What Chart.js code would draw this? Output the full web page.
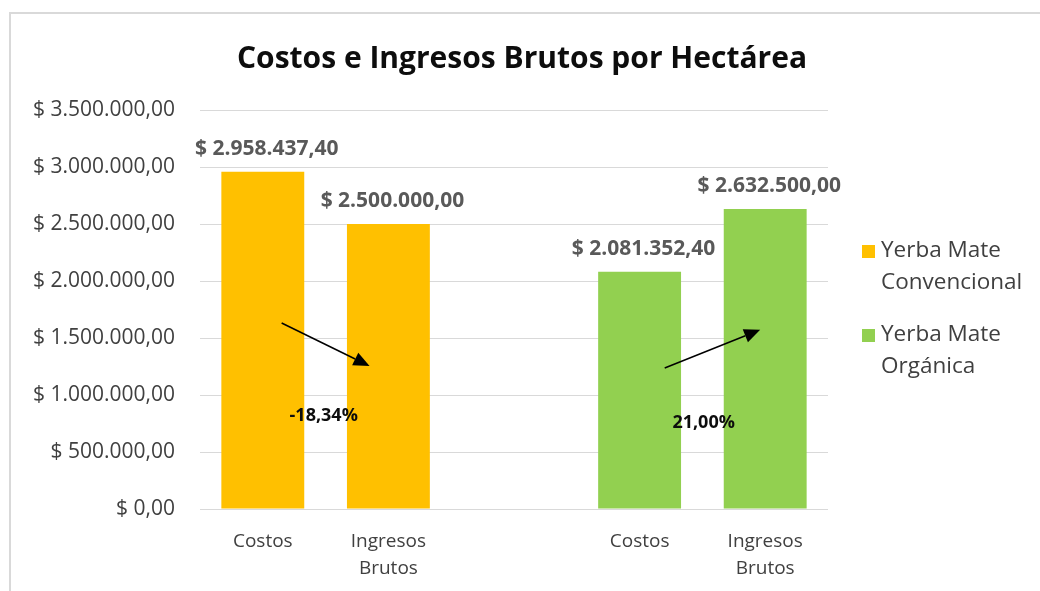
<!DOCTYPE html>
<html>
<head>
<meta charset="utf-8">
<script src="https://cdn.jsdelivr.net/npm/chart.js@4.4.1/dist/chart.umd.min.js"></script>
<style>
  html, body { margin: 0; padding: 0; background: #ffffff; }
  canvas { display: block; }
</style>
</head>
<body>
<canvas id="c" width="1040" height="591"></canvas>
<script>
// ---- data ----
const chartTitle = 'Costos e Ingresos Brutos por Hectárea';
const categories = ['Costos', ['Ingresos', 'Brutos'], '', 'Costos', ['Ingresos', 'Brutos']];
const seriesNames = ['Yerba Mate Convencional', 'Yerba Mate Orgánica'];
const convencional = [2958437.40, 2500000.00, null, null, null];
const organica = [null, null, null, 2081352.40, 2632500.00];
const seriesColors = ['#FFC000', '#92D050'];
const yTicksMin = 0, yTicksMax = 3500000, yTicksStep = 500000;
// change annotations (category index, value)
const changeArrowFrom = [[0.15, 1632000], [3.20, 1237000]];
const changeArrowTo = [[0.85, 1254000], [3.96, 1572000]];
const changeLabels = ['-18,34%', '21,00%'];
const changeLabelPos = [[0.485, 816000], [3.51, 754000]];

const FONT = '"Open Sans", Lato, sans-serif';

function fmtMoney(v) {
  const parts = Number(v).toFixed(2).split('.');
  return '$ ' + parts[0].replace(/\B(?=(\d{3})+(?!\d))/g, '.') + ',' + parts[1];
}

const decorPlugin = {
  id: 'decor',
  beforeDraw(chart) {
    const ctx = chart.ctx;
    ctx.save();
    ctx.fillStyle = '#ffffff';
    ctx.fillRect(0, 0, chart.width, chart.height);
    ctx.strokeStyle = '#D9D9D9';
    ctx.lineWidth = 2;
    ctx.strokeRect(10, 13, 1200, 800);
    // title
    ctx.fillStyle = '#0D0D0D';
    ctx.font = 'bold 30px ' + FONT;
    ctx.textAlign = 'center';
    ctx.textBaseline = 'middle';
    ctx.fillText(chartTitle, 522, 59);
    ctx.restore();
  },
  afterDatasetsDraw(chart) {
    const ctx = chart.ctx;
    const xs = chart.scales.x, ys = chart.scales.y;
    ctx.save();
    // value labels
    ctx.font = 'bold 21px ' + FONT;
    ctx.fillStyle = '#595959';
    ctx.textAlign = 'center';
    ctx.textBaseline = 'middle';
    chart.data.datasets.forEach((ds, di) => {
      const meta = chart.getDatasetMeta(di);
      meta.data.forEach((bar, i) => {
        const v = ds.data[i];
        if (v === null || v === undefined) return;
        ctx.fillText(fmtMoney(v), bar.x + 4, bar.y - 23);
      });
    });
    // arrows
    ctx.strokeStyle = '#000000';
    ctx.fillStyle = '#000000';
    ctx.lineWidth = 1.5;
    changeArrowFrom.forEach((f, k) => {
      const t = changeArrowTo[k];
      const x1 = xs.getPixelForValue(f[0]), y1 = ys.getPixelForValue(f[1]);
      const x2 = xs.getPixelForValue(t[0]), y2 = ys.getPixelForValue(t[1]);
      const ang = Math.atan2(y2 - y1, x2 - x1);
      const hl = 16, hw = 7;
      const bx = x2 - hl * Math.cos(ang), by = y2 - hl * Math.sin(ang);
      ctx.beginPath();
      ctx.moveTo(x1, y1);
      ctx.lineTo(bx, by);
      ctx.stroke();
      ctx.beginPath();
      ctx.moveTo(x2, y2);
      ctx.lineTo(bx + hw * Math.sin(ang), by - hw * Math.cos(ang));
      ctx.lineTo(bx - hw * Math.sin(ang), by + hw * Math.cos(ang));
      ctx.closePath();
      ctx.fill();
    });
    // change labels
    ctx.font = 'bold 18px ' + FONT;
    ctx.fillStyle = '#0D0D0D';
    changeLabels.forEach((txt, k) => {
      const p = changeLabelPos[k];
      ctx.fillText(txt, xs.getPixelForValue(p[0]), ys.getPixelForValue(p[1]));
    });
    ctx.restore();
  },
  afterDraw(chart) {
    // legend
    const ctx = chart.ctx;
    ctx.save();
    ctx.font = '22.5px ' + FONT;
    ctx.textAlign = 'left';
    ctx.textBaseline = 'middle';
    const x0 = 862, tx = 881, maxW = 150;
    let y = 251;
    seriesNames.forEach((name, i) => {
      const words = name.split(' ');
      const lines = [];
      let cur = '';
      words.forEach(w => {
        const test = cur ? cur + ' ' + w : w;
        if (ctx.measureText(test).width > maxW && cur) { lines.push(cur); cur = w; }
        else cur = test;
      });
      if (cur) lines.push(cur);
      ctx.fillStyle = seriesColors[i];
      ctx.fillRect(x0, y - 6, 13, 13);
      ctx.fillStyle = '#404040';
      lines.forEach((ln, j) => ctx.fillText(ln, tx, y + j * 32));
      y += 84;
    });
    ctx.restore();
  }
};

new Chart(document.getElementById('c'), {
  type: 'bar',
  data: {
    labels: categories,
    datasets: [
      { label: seriesNames[0], data: convencional, backgroundColor: seriesColors[0], grouped: false, categoryPercentage: 1, barPercentage: 0.66 },
      { label: seriesNames[1], data: organica, backgroundColor: seriesColors[1], grouped: false, categoryPercentage: 1, barPercentage: 0.66 }
    ]
  },
  options: {
    responsive: false,
    animation: false,
    layout: { padding: { top: 110, right: 212, left: 0, bottom: 0 } },
    plugins: { legend: { display: false }, title: { display: false }, tooltip: { enabled: false } },
    scales: {
      x: {
        grid: { display: false },
        border: { display: false },
        ticks: { color: '#404040', font: { family: FONT, size: 19, lineHeight: 1.42 }, padding: 11, maxRotation: 0, autoSkip: false },
        afterFit(s) { s.height = 82; }
      },
      y: {
        min: yTicksMin, max: yTicksMax,
        grid: { color: '#D9D9D9', drawTicks: false, lineWidth: 1 },
        border: { display: false },
        ticks: { stepSize: yTicksStep, color: '#404040', font: { family: FONT, size: 21 }, padding: 25, callback: v => fmtMoney(v) },
        afterFit(s) { s.width = 200; }
      }
    }
  },
  plugins: [decorPlugin]
});
</script>
</body>
</html>
